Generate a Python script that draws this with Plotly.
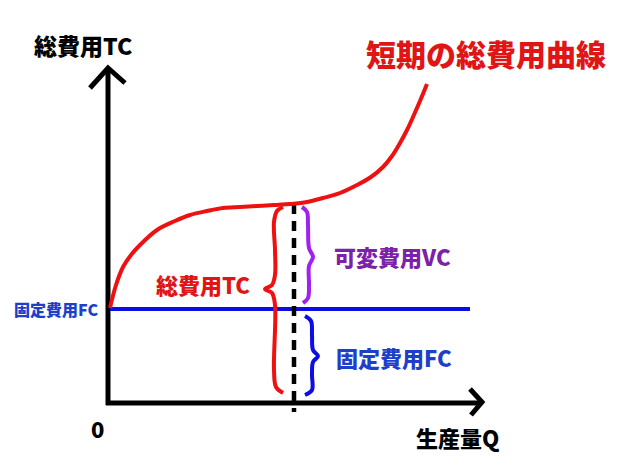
import plotly.graph_objects as go

# Total cost curve (hand-drawn)
tc_q = [110, 116, 123, 131, 140, 157, 175, 190, 207, 223, 240, 257, 274, 290, 307, 323, 340, 357, 371, 383, 392, 400, 407, 413, 420, 427]
tc_c = [308, 285, 267, 255, 245, 230, 221, 215, 211, 208, 207, 206, 205, 204, 202, 198, 193, 185, 177, 167, 156, 143, 130, 117, 101, 84]

fc_level = 309
q_mark = 294

# Braces
red_bx = [283, 277, 274, 275, 275, 272, 265, 272, 275, 274, 276, 283]
red_by = [207, 211, 222, 250, 275, 285, 289, 293, 305, 370, 387, 393]
vc_bx = [302, 307, 308, 309, 313, 309, 309, 308, 303]
vc_by = [207, 212, 225, 248, 257, 266, 285, 298, 303]
fc_bx = [305, 311, 312, 313, 318, 313, 312, 312, 305]
fc_by = [316, 321, 335, 350, 356, 362, 375, 390, 395]

FONT = "Noto Sans CJK JP"

fig = go.Figure()

def line(xs, ys, color, width, dash=None, shape="linear"):
    fig.add_trace(go.Scatter(x=xs, y=ys, mode="lines",
                             line=dict(color=color, width=width, dash=dash, shape=shape),
                             hoverinfo="skip", showlegend=False))

# axes
line([108, 108], [405, 70], "black", 5)
line([90, 108, 125], [88, 68, 83], "black", 5)
line([106, 480], [403, 403], "black", 5)
line([470, 482, 471], [389, 402, 415], "black", 5)

# FC line
line([110, 470], [fc_level, fc_level], "#0c0ce6", 4)
# dashed line
line([q_mark, q_mark], [204, 412], "black", 4.5, dash="10px,7px")
# TC curve
line(tc_q, tc_c, "#ee1111", 4, shape="spline")
# braces
line(red_bx, red_by, "#ee1111", 4, shape="spline")
line(vc_bx, vc_by, "#a020f0", 4, shape="spline")
line(fc_bx, fc_by, "#0c0ce6", 4, shape="spline")

def txt(x, y, s, color, size, xanchor="left"):
    fig.add_annotation(x=x, y=y, text=s, showarrow=False,
                       xref="x", yref="y", xanchor=xanchor, yanchor="middle",
                       font=dict(family=FONT, size=size, color=color, weight=900))

txt(32, 45, "総費用TC", "black", 23)
txt(364, 53, "短期の総費用曲線", "#e01515", 30)
txt(12, 309, "固定費用FC", "#1d3fc9", 16)
txt(154, 284, "総費用TC", "#e01515", 22)
txt(332, 256, "可変費用VC", "#7d22a8", 22)
txt(334, 357, "固定費用FC", "#1d3fc9", 22)
txt(97, 428, "0", "black", 22, xanchor="center")
txt(414, 437, "生産量Q", "black", 22)

# page body has an 8px margin; shift ranges so data units equal page pixels
fig.update_layout(
    width=612, height=459,
    margin=dict(l=0, r=0, t=0, b=0),
    paper_bgcolor="white", plot_bgcolor="white",
    xaxis=dict(range=[8, 620], visible=False, fixedrange=True),
    yaxis=dict(range=[467, 8], visible=False, fixedrange=True),
)

fig.write_html("out.html")
